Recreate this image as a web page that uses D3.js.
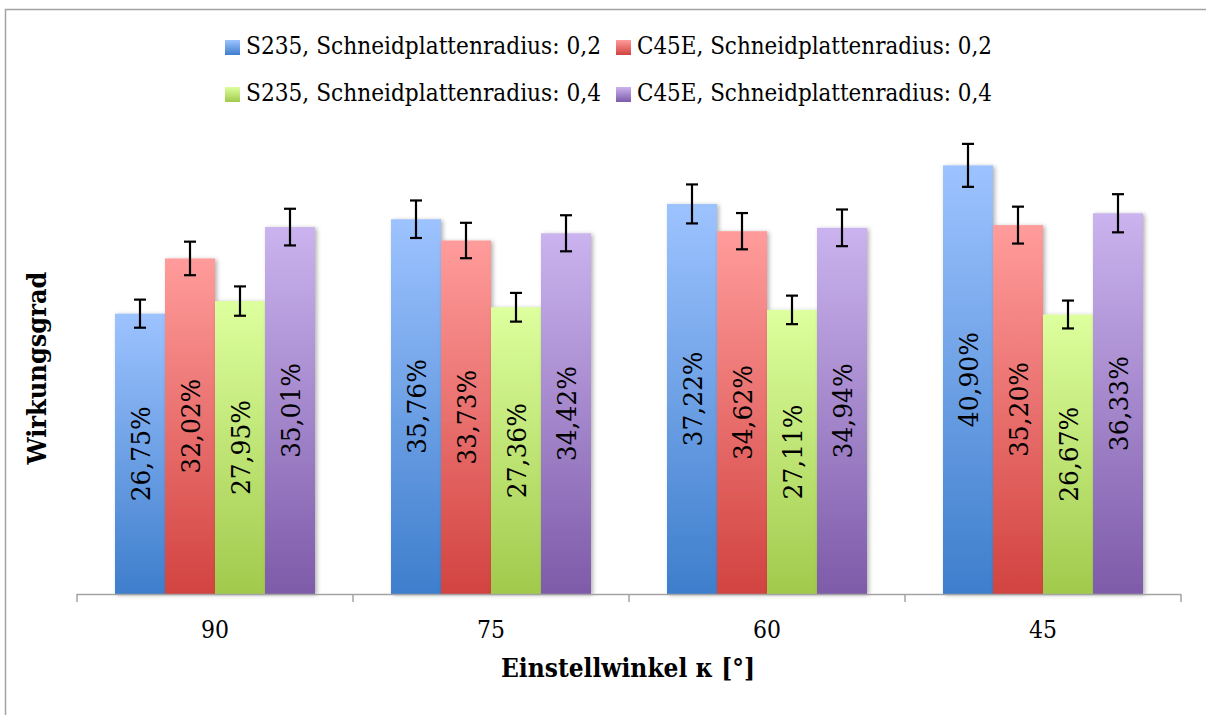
<!DOCTYPE html>
<html>
<head>
<meta charset="utf-8">
<script src="https://cdn.jsdelivr.net/npm/d3@7"></script>
<style>
  html, body { margin: 0; padding: 0; background: #fff; }
  svg { display: block; }
  text { font-family: "DejaVu Serif", "Liberation Serif", serif; fill: #000; }
</style>
</head>
<body>
<svg id="chart" width="1206" height="715"></svg>
<script>
// ---- data ----
const categories = ["90", "75", "60", "45"];
const seriesNames = [
  "S235, Schneidplattenradius: 0,2",
  "C45E, Schneidplattenradius: 0,2",
  "S235, Schneidplattenradius: 0,4",
  "C45E, Schneidplattenradius: 0,4"
];
const s235_r02 = [26.75, 35.76, 37.22, 40.90];
const c45e_r02 = [32.02, 33.73, 34.62, 35.20];
const s235_r04 = [27.95, 27.36, 27.11, 26.67];
const c45e_r04 = [35.01, 34.42, 34.94, 36.33];
const err_s235_r02 = [1.34, 1.79, 1.86, 2.05];
const err_c45e_r02 = [1.60, 1.69, 1.73, 1.76];
const err_s235_r04 = [1.40, 1.37, 1.36, 1.33];
const err_c45e_r04 = [1.75, 1.72, 1.75, 1.82];
const xTitle = "Einstellwinkel κ [°]";
const yTitle = "Wirkungsgrad";

const seriesValues = [s235_r02, c45e_r02, s235_r04, c45e_r04];
const seriesErrors = [err_s235_r02, err_c45e_r02, err_s235_r04, err_c45e_r04];
const gradColors = [
  ["#9DC3FF", "#3E7ECC"],
  ["#FF9C9B", "#D24340"],
  ["#DDFF9E", "#A1CA4C"],
  ["#CAB3EE", "#7E5BA9"]
];

const svg = d3.select("#chart");
const defs = svg.append("defs");
gradColors.forEach((c, i) => {
  const g = defs.append("linearGradient").attr("id", "grad" + i)
    .attr("x1", 0).attr("y1", 0).attr("x2", 0).attr("y2", 1);
  g.append("stop").attr("offset", "0%").attr("stop-color", c[0]);
  g.append("stop").attr("offset", "100%").attr("stop-color", c[1]);
});
const f = defs.append("filter").attr("id", "shadow")
  .attr("x", "-20%").attr("y", "-5%").attr("width", "150%").attr("height", "115%");
f.append("feDropShadow").attr("dx", 2).attr("dy", 1).attr("stdDeviation", 2)
  .attr("flood-color", "#000").attr("flood-opacity", 0.3);

// frame
svg.append("path").attr("d", "M5.5,720 L5.5,9.5 L1215,9.5")
  .attr("fill", "none").attr("stroke", "#a3a3a3").attr("stroke-width", 1.5);

// scales
const baseY = 594;
const y = d3.scaleLinear().domain([0, 50]).range([baseY, baseY - 524]);
const x0 = d3.scaleBand().domain(categories).range([77, 1181]).paddingInner(0).paddingOuter(0);
const x1 = d3.scaleBand().domain(d3.range(seriesNames.length))
  .range([0, x0.bandwidth()]).paddingInner(0).paddingOuter(0.76);

// data rows
const rows = [];
categories.forEach((c, ci) => {
  seriesValues.forEach((vals, si) => {
    rows.push({ cat: c, si, v: vals[ci], e: seriesErrors[si][ci] });
  });
});

// bars
const gBars = svg.append("g");
gBars.selectAll("rect").data(rows).join("rect")
  .attr("x", d => x0(d.cat) + x1(d.si))
  .attr("y", d => y(d.v))
  .attr("width", x1.bandwidth())
  .attr("height", d => y(0) - y(d.v))
  .attr("fill", d => `url(#grad${d.si})`)
  .attr("filter", "url(#shadow)");

// helper: font size that gives target width, enlarged, then squeezed to width
function fitSize(text, weight, target, base) {
  const t = svg.append("text").attr("font-size", base).attr("font-weight", weight).text(text);
  const w = t.node().getComputedTextLength();
  t.remove();
  return base * target / w;
}
const GROW = 1.08;

// axis line + boundary ticks
const axisG = svg.append("g").attr("transform", `translate(0,${baseY})`)
  .call(d3.axisBottom(x0).tickSize(0).tickPadding(0));
axisG.select(".domain").attr("stroke", "#a3a3a3").attr("stroke-width", 1.5)
  .attr("d", `M${x0.range()[0]},0.5H${x0.range()[1]}`);
const tickSize = fitSize("90", "normal", 28, 22) * GROW;
axisG.selectAll(".tick text").attr("font-family", "DejaVu Serif")
  .attr("font-size", tickSize).attr("y", 44).attr("dy", 0).attr("fill", "#000")
  .attr("textLength", 28).attr("lengthAdjust", "spacingAndGlyphs");
const bounds = categories.map(c => x0(c)).concat([x0.range()[1]]);
axisG.selectAll("line.bound").data(bounds).join("line").attr("class", "bound")
  .attr("x1", d => d).attr("x2", d => d).attr("y1", 0).attr("y2", 8)
  .attr("stroke", "#a3a3a3").attr("stroke-width", 1.5);

// error bars
const gErr = svg.append("g").attr("stroke", "#000").attr("stroke-width", 2.2);
rows.forEach(d => {
  const cx = x0(d.cat) + x1(d.si) + x1.bandwidth() / 2;
  const yt = y(d.v + d.e), yb = y(d.v - d.e);
  gErr.append("line").attr("x1", cx).attr("x2", cx).attr("y1", yt).attr("y2", yb);
  gErr.append("line").attr("x1", cx - 6).attr("x2", cx + 6).attr("y1", yt).attr("y2", yt);
  gErr.append("line").attr("x1", cx - 6).attr("x2", cx + 6).attr("y1", yb).attr("y2", yb);
});

// bar value labels
const fmt = v => v.toFixed(2).replace(".", ",") + "%";
const labelSize = fitSize(fmt(s235_r02[0]), "normal", 95, 24) * GROW;
svg.append("g").selectAll("text").data(rows).join("text")
  .attr("transform", d => {
    const cx = x0(d.cat) + x1(d.si) + x1.bandwidth() / 2;
    const cy = (y(d.v) + y(0)) / 2;
    return `translate(${cx},${cy}) rotate(-90)`;
  })
  .attr("text-anchor", "middle").attr("dy", "0.36em")
  .attr("font-size", labelSize)
  .attr("textLength", 95).attr("lengthAdjust", "spacingAndGlyphs")
  .text(d => fmt(d.v));

// axis titles
const xtSize = fitSize(xTitle, "bold", 254, 22) * GROW;
svg.append("text").attr("x", 628).attr("y", 677).attr("text-anchor", "middle")
  .attr("font-weight", "bold").attr("font-size", xtSize)
  .attr("textLength", 254).attr("lengthAdjust", "spacingAndGlyphs").text(xTitle);
const ytSize = fitSize(yTitle, "bold", 193, 22) * GROW;
svg.append("text").attr("transform", "translate(46,368) rotate(-90)")
  .attr("text-anchor", "middle").attr("font-weight", "bold")
  .attr("font-size", ytSize)
  .attr("textLength", 193).attr("lengthAdjust", "spacingAndGlyphs").text(yTitle);

// legend
const legSize = fitSize(seriesNames[0], "normal", 355, 22) * GROW;
const legPos = [[225, 40], [616, 40], [225, 87], [616, 87]];
const leg = svg.append("g").selectAll("g").data(seriesNames).join("g")
  .attr("transform", (d, i) => `translate(${legPos[i][0]},${legPos[i][1]})`);
leg.append("rect").attr("width", 15).attr("height", 15)
  .attr("fill", (d, i) => `url(#grad${i})`);
leg.append("text").attr("x", 21).attr("y", 14).attr("font-size", legSize)
  .attr("textLength", 355).attr("lengthAdjust", "spacingAndGlyphs").text(d => d);
</script>
</body>
</html>
